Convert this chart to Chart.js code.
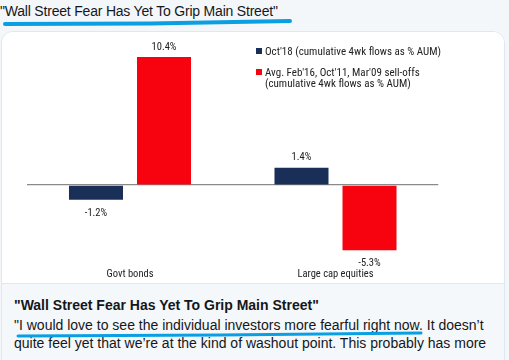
<!DOCTYPE html>
<html>
<head>
<meta charset="utf-8">
<script src="https://cdn.jsdelivr.net/npm/chart.js@4"></script>
<style>
  html, body { margin: 0; padding: 0; }
  body { width: 509px; height: 360px; background: #f4f7fa; position: relative; overflow: hidden;
         font-family: "Liberation Sans", Arial, sans-serif; color: #14171a; }
  #top { position: absolute; left: 0; top: 2px; font-size: 14px; letter-spacing: -0.2px; line-height: 18px; white-space: nowrap; }
  #card { position: absolute; left: 1px; top: 31px; width: 502px; height: 340px; border: 1px solid #e1e8ed;
          border-radius: 12px; background: #f5f8fa; overflow: hidden; }
  #img { position: absolute; left: 0; top: 0; width: 502px; height: 251px; background: #fff; border-bottom: 1px solid #e1e8ed; }
  #chartbox { position: absolute; left: 0; top: 31px; width: 505px; height: 252px; }
  #legend { position: absolute; left: 256px; top: 46px; font-family: "Roboto Condensed", "Liberation Sans", Arial, sans-serif;
            font-size: 11px; line-height: 11px; color: #222; }
  .li { position: relative; padding-left: 9px; white-space: nowrap; }
  .li .sq { position: absolute; left: 0; top: 2px; width: 6px; height: 6px; }
  .li + .li { margin-top: 10px; }
  #head { position: absolute; left: 14px; top: 296px; font-size: 14px; font-weight: bold; letter-spacing: 0; white-space: nowrap; line-height: 18px; }
  #body { position: absolute; left: 14px; top: 316px; font-size: 14px; line-height: 18px; white-space: nowrap; letter-spacing: 0; }
  svg#marks { position: absolute; left: 0; top: 0; }
</style>
</head>
<body>
<div id="top">"Wall Street Fear Has Yet To Grip Main Street"</div>
<div id="card"><div id="img"></div></div>
<div id="chartbox"><canvas id="c"></canvas></div>
<div id="legend"></div>
<div id="head">"Wall Street Fear Has Yet To Grip Main Street"</div>
<div id="body">"I would love to see the individual investors more fearful right now. It doesn’t<br>quite feel yet that we’re at the kind of washout point. This probably has more</div>
<svg id="marks" width="509" height="360">
  <path d="M5 24 L150 23.5 L290 21" stroke="#0a9fe3" stroke-width="4" fill="none" stroke-linecap="round"/>
  <path d="M18 336 L220 335 L421 333" stroke="#0a9fe3" stroke-width="3" fill="none" stroke-linecap="round"/>
</svg>
<script>
const categories = ["Govt bonds", "Large cap equities"];
const oct18Values = [-1.2, 1.4];
const avgSelloffValues = [10.4, -5.3];
const seriesLabels = [
  ["Oct'18 (cumulative 4wk flows as % AUM)"],
  ["Avg. Feb'16, Oct'11, Mar'09 sell-offs", "(cumulative 4wk flows as % AUM)"]
];
const seriesColors = ["#1a2f58", "#f7020f"];
const labelFont = '"Roboto Condensed", "Liberation Sans", Arial, sans-serif';

const legendEl = document.getElementById('legend');
seriesLabels.forEach((lines, i) => {
  const d = document.createElement('div');
  d.className = 'li';
  d.innerHTML = '<span class="sq" style="background:' + seriesColors[i] + '"></span>' + lines.join('<br>');
  legendEl.appendChild(d);
});

const valueLabels = {
  id: 'valueLabels',
  afterDatasetsDraw(chart) {
    const ctx = chart.ctx;
    ctx.save();
    ctx.font = '10.5px ' + labelFont;
    ctx.fillStyle = '#222';
    ctx.textAlign = 'center';
    ctx.textBaseline = 'middle';
    chart.data.datasets.forEach((ds, di) => {
      chart.getDatasetMeta(di).data.forEach((el, i) => {
        const v = ds.data[i];
        const y = v >= 0 ? el.y - 10 : el.y + 13.5;
        ctx.fillText(v.toFixed(1) + '%', el.x, y);
      });
    });
    ctx.restore();
  }
};

new Chart(document.getElementById('c'), {
  type: 'bar',
  data: {
    labels: categories,
    datasets: [
      { label: seriesLabels[0].join(' '), data: oct18Values, backgroundColor: seriesColors[0] },
      { label: seriesLabels[1].join(' '), data: avgSelloffValues, backgroundColor: seriesColors[1] }
    ]
  },
  options: {
    responsive: true,
    maintainAspectRatio: false,
    animation: false,
    layout: { padding: { left: 27.25, right: 66.75, top: 6.4, bottom: 0 } },
    plugins: { legend: { display: false }, tooltip: { enabled: false } },
    datasets: { bar: { categoryPercentage: 0.662, barPercentage: 0.794 } },
    scales: {
      x: {
        grid: { display: false, drawTicks: false },
        border: { display: false },
        ticks: { color: '#222', padding: 3.5, font: { family: labelFont, size: 10.5 } },
        afterFit(s) { s.height = 18; }
      },
      y: {
        min: -6.5, max: 12,
        ticks: { display: false, stepSize: 1 },
        border: { display: false },
        grid: { drawTicks: false, color: (c) => (c.tick && c.tick.value === 0 ? '#8a8a8a' : 'rgba(0,0,0,0)'), lineWidth: 1.2 },
        afterFit(s) { s.width = 0; }
      }
    }
  },
  plugins: [valueLabels]
});
</script>
</body>
</html>
